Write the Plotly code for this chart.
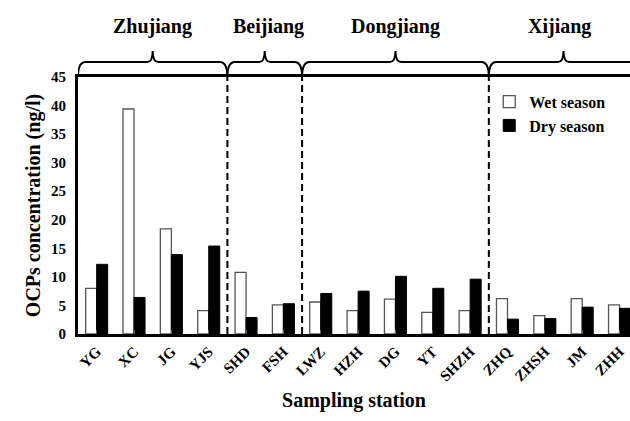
import plotly.graph_objects as go

stations = ["YG", "XC", "JG", "YJS", "SHD", "FSH", "LWZ", "HZH", "DG", "YT",
            "SHZH", "ZHQ", "ZHSH", "JM", "ZHH"]
wet = [8.0, 39.4, 18.4, 4.1, 10.8, 5.1, 5.6, 4.1, 6.1, 3.8, 4.1, 6.2, 3.2, 6.2, 5.1]
dry = [12.2, 6.4, 13.9, 15.4, 2.9, 5.3, 7.1, 7.5, 10.1, 8.0, 9.6, 2.6, 2.7, 4.7, 4.5]

regions = ["Zhujiang", "Beijiang", "Dongjiang", "Xijiang"]
region_bounds = [(-0.5, 3.5), (3.5, 5.5), (5.5, 10.5), (10.5, 14.5)]
region_label_x = [1.5, 4.6, 8.0, 12.4]
dividers = [3.5, 5.5, 10.5]

FONT = "Liberation Serif"
xpos = list(range(len(stations)))

fig = go.Figure()
fig.add_trace(go.Bar(x=xpos, y=wet, name="<b>Wet season</b>",
                     marker=dict(color="white", line=dict(color="#555555", width=1.3))))
fig.add_trace(go.Bar(x=xpos, y=dry, name="<b>Dry season</b>",
                     marker=dict(color="black", line=dict(color="black", width=1))))

# dashed dividers
for d in dividers:
    fig.add_shape(type="line", xref="x", yref="y", x0=d, x1=d, y0=0, y1=45,
                  line=dict(color="black", width=2, dash="7px,4px"))

# braces above the plot (paper y: 1 = top of plot, plot height 257 px)
H = 257.0
yf = 1 + 15 / H
yp = 1 + 26 / H
r = 0.2
rp = 0.15
for (a, b) in region_bounds:
    m = (a + b) / 2
    path = (f"M{a},1 Q{a},{yf} {a + r},{yf} L{m - rp},{yf} "
            f"Q{m},{yf} {m},{yp} Q{m},{yf} {m + rp},{yf} "
            f"L{b - r},{yf} Q{b},{yf} {b},1")
    fig.add_shape(type="path", xref="x", yref="paper", path=path,
                  line=dict(color="black", width=2))

for name, lx in zip(regions, region_label_x):
    fig.add_annotation(x=lx, y=1 + 51 / H, xref="x", yref="paper", text=f"<b>{name}</b>",
                       showarrow=False, yanchor="middle",
                       font=dict(family=FONT, size=20, color="black"))

fig.update_layout(
    width=630, height=421,
    margin=dict(l=78, r=0, t=77, b=87),
    plot_bgcolor="white", paper_bgcolor="white",
    barmode="group", bargap=0.41, bargroupgap=0,
    font=dict(family=FONT, color="black"),
    legend=dict(x=0.745, y=0.97, xanchor="left", yanchor="top",
                bgcolor="rgba(0,0,0,0)", itemwidth=30, tracegroupgap=0,
                font=dict(family=FONT, size=16, color="black")),
    showlegend=True,
)
fig.update_xaxes(
    range=[-0.5, 14.28], tickmode="array", tickvals=xpos,
    ticktext=[f"<b>{s}</b>" for s in stations], tickangle=-45,
    tickfont=dict(family=FONT, size=15, color="black"),
    showline=True, linecolor="black", linewidth=3, mirror=True,
    ticks="inside", ticklen=4, tickcolor="#555555", tickwidth=1,
    showgrid=False, zeroline=False,
    title=dict(text="<b>Sampling station</b>", font=dict(family=FONT, size=20, color="black"),
               standoff=10),
)
fig.update_yaxes(
    range=[0, 45], tickmode="array", tickvals=list(range(0, 46, 5)),
    ticktext=[f"<b>{v}</b>" for v in range(0, 46, 5)],
    tickfont=dict(family=FONT, size=15, color="black"),
    showline=True, linecolor="black", linewidth=3,
    ticks="", showgrid=False, zeroline=False, ticklabelstandoff=6,
    title=dict(text="<b>OCPs concentration (ng/l)</b>",
               font=dict(family=FONT, size=20, color="black"), standoff=6),
)

fig.write_html("out.html")
